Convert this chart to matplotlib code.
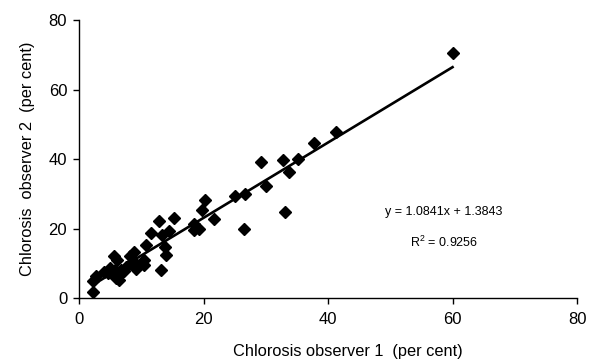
import matplotlib
matplotlib.use("Agg")
import matplotlib.pyplot as plt
import numpy as np

plt.rcParams['font.family'] = ['Liberation Sans', 'DejaVu Sans']
plt.rcParams['mathtext.fontset'] = 'custom'
plt.rcParams['mathtext.rm'] = 'Liberation Sans'
plt.rcParams['mathtext.it'] = 'Liberation Sans'

observer1 = [60.0, 41.3, 37.8, 35.2, 33.7, 32.8, 29.3, 30.1, 26.7, 25.0, 26.5, 33.1,
             20.2, 19.8, 21.7, 19.3, 18.5, 18.5, 15.2, 12.8, 11.6, 13.4, 14.4, 13.8,
             13.9, 13.2, 10.8, 10.4, 10.4, 8.9, 8.2, 9.2, 8.4, 5.6, 6.1, 5.0, 4.7,
             6.7, 6.5, 7.2, 2.7, 2.3, 2.2, 5.8, 4.0, 6.0, 7.6, 9.0, 6.8]
observer2 = [70.4, 47.9, 44.5, 39.9, 36.4, 39.6, 39.0, 32.1, 30.0, 29.4, 20.0, 24.7,
             28.3, 25.2, 22.7, 20.0, 21.4, 19.6, 22.9, 22.3, 18.7, 18.2, 19.4, 14.8,
             12.3, 8.1, 15.3, 11.0, 9.6, 13.1, 12.0, 8.3, 10.1, 12.0, 11.0, 8.6, 7.2,
             8.1, 5.3, 7.7, 6.2, 4.8, 1.6, 8.1, 7.6, 5.7, 9.0, 10.0, 7.1]
slope = 1.0841
intercept = 1.3843
r_squared = 0.9256
x_ticks = [0, 20, 40, 60, 80]
y_ticks = [0, 20, 40, 60, 80]

fig = plt.figure(figsize=(5.96, 3.64), dpi=100)
ax = fig.add_axes([0.1326, 0.1813, 0.8356, 0.7637])

ax.plot(observer1, observer2, 'D', color='black', markersize=6, zorder=3)
xl = np.array([min(observer1), max(observer1)])
ax.plot(xl, slope * xl + intercept, color='black', linewidth=1.9, zorder=2)

ax.set_xlim(0, 80)
ax.set_ylim(0, 80)
ax.set_xticks(x_ticks)
ax.set_yticks(y_ticks)
for s in ['top', 'right']:
    ax.spines[s].set_visible(False)
for s in ['left', 'bottom']:
    ax.spines[s].set_linewidth(1.0)
ax.tick_params(direction='out', length=4, width=1, labelsize=12, colors='black')
ax.tick_params(axis='x', pad=6)
ax.tick_params(axis='y', pad=4.5)

ax.set_xlabel('Chlorosis observer 1  (per cent)', fontsize=11.8)
ax.xaxis.set_label_coords(0.54, -0.165)
ax.set_ylabel('Chlorosis  observer 2  (per cent)', fontsize=11.8, labelpad=10)

ax.text(58.6, 24.7, f'y = {slope}x + {intercept}', ha='center', va='center', fontsize=9)
ax.text(58.6, 16.0, 'R$^2$ = ' + f'{r_squared}', ha='center', va='center', fontsize=9)

fig.savefig('out.png', dpi=100)
